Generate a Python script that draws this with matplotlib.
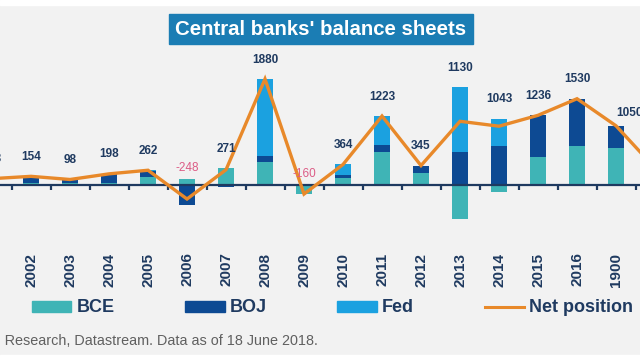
import numpy as np
import matplotlib
matplotlib.use("Agg")
from matplotlib import pyplot as plt
from matplotlib.patches import Rectangle, Patch
from matplotlib.lines import Line2D

plt.rcParams['font.family'] = ['Liberation Sans', 'DejaVu Sans']

# data (USD bn)
years = ['2001', '2002', '2003', '2004', '2005', '2006', '2007', '2008', '2009',
         '2010', '2011', '2012', '2013', '2014', '2015', '2016', '1900', '2018']
bce = [50, 40, 30, 28, 140, 110, 300, 410, -165, 130, 580, 205, -600, -130, 490, 690, 650, 200]
boj = [63, 80, 68, 170, 110, -358, -29, 110, 0, 50, 130, 140, 590, 700, 746, 840, 400, 100]
fed = [0, 34, 0, 0, 12, 0, 0, 1360, 5, 184, 513, 0, 1140, 473, 0, 0, 0, 0]
net = [113, 154, 98, 198, 262, -248, 271, 1880, -160, 364, 1223, 345, 1130, 1043, 1236, 1530, 1050, 300]

c_bce = '#3fb4b6'
c_boj = '#0d4a93'
c_fed = '#1ba1e0'
c_net = '#e8892a'
navy = '#1f3a60'
bg = '#f2f2f2'

fig = plt.figure(figsize=(6.4, 3.6), dpi=100, facecolor=bg)
# axes cover full width, plot area from y=50px to y=247px
ax = fig.add_axes([0, 1 - 247 / 360, 1, (247 - 50) / 360])
ax.set_facecolor('none')

x = np.arange(len(years))
w = 0.4
pos_bottom = np.zeros(len(years))
neg_bottom = np.zeros(len(years))
for vals, col in [(bce, c_bce), (boj, c_boj), (fed, c_fed)]:
    v = np.array(vals, dtype=float)
    b = np.where(v >= 0, pos_bottom, neg_bottom)
    ax.bar(x, v, w, bottom=b, color=col, zorder=2)
    pos_bottom += np.where(v >= 0, v, 0)
    neg_bottom += np.where(v < 0, v, 0)

ax.plot(x, net, color=c_net, lw=2.4, zorder=4, solid_joinstyle='miter')

ax.axhline(0, color=navy, lw=1.6, zorder=3)
ax.vlines(x + 0.5, -90, 0, color=navy, lw=1.6, zorder=3)

ax.set_xticks(x)
ax.set_xticklabels(years, rotation=90, fontsize=11, fontweight='bold', color=navy)
ax.tick_params(axis='x', length=0, pad=4)
ax.set_yticks([])
for s in ax.spines.values():
    s.set_visible(False)

# the chart is cropped: only part of the first and last year are visible
ax.set_xlim(0.205, 16.615)
ax.set_ylim(-1099, 2394)

# value labels
nudge = {16: (10, -5)}
for i, v in enumerate(net):
    top = max(pos_bottom[i], v)
    dx, dy = nudge.get(i, (0, 0))
    if v >= 0:
        ax.annotate(str(v), (i, top), xytext=(dx, 14 + dy), textcoords='offset points',
                    ha='center', va='center', fontsize=8.5, fontweight='bold',
                    color=navy, annotation_clip=False, zorder=5)
    else:
        ax.annotate(str(v), (i, pos_bottom[i]), xytext=(dx, 8 + dy), textcoords='offset points',
                    ha='center', va='center', fontsize=8.5, color='#dc5c86',
                    annotation_clip=False, zorder=5)

# title box
fig.patches.append(Rectangle((169 / 640, 1 - 44 / 360), 304 / 640, 30 / 360,
                             transform=fig.transFigure, color='#1b7db4', zorder=0))
fig.text(321 / 640, 1 - 29.5 / 360, "Central banks' balance sheets", ha='center', va='center',
         fontsize=14.7, fontweight='bold', color='white')

handles = [Patch(color=c_bce, label='BCE'), Patch(color=c_boj, label='BOJ'),
           Patch(color=c_fed, label='Fed'), Line2D([], [], color=c_net, lw=2.2, label='Net position')]
leg = fig.legend(handles=handles, loc='center', bbox_to_anchor=(332.5 / 640, 1 - 308 / 360),
                 ncol=4, frameon=False, handlelength=2.2, handleheight=0.55,
                 handletextpad=0.28, columnspacing=3.9,
                 prop={'size': 13, 'weight': 'bold'})
for t in leg.get_texts():
    t.set_color(navy)

fig.text(318 / 640, 1 - 341 / 360, 'Source: Amundi Research, Datastream. Data as of 18 June 2018.',
         ha='right', va='center', fontsize=10.4, color='#606060')

# white strips at top and bottom
fig.patches.append(Rectangle((0, 1 - 5 / 360), 1, 5 / 360, transform=fig.transFigure,
                             color='white', zorder=0))
fig.patches.append(Rectangle((0, 0), 1, 5 / 360, transform=fig.transFigure,
                             color='white', zorder=0))

fig.savefig('out.png', dpi=100, facecolor=bg)
